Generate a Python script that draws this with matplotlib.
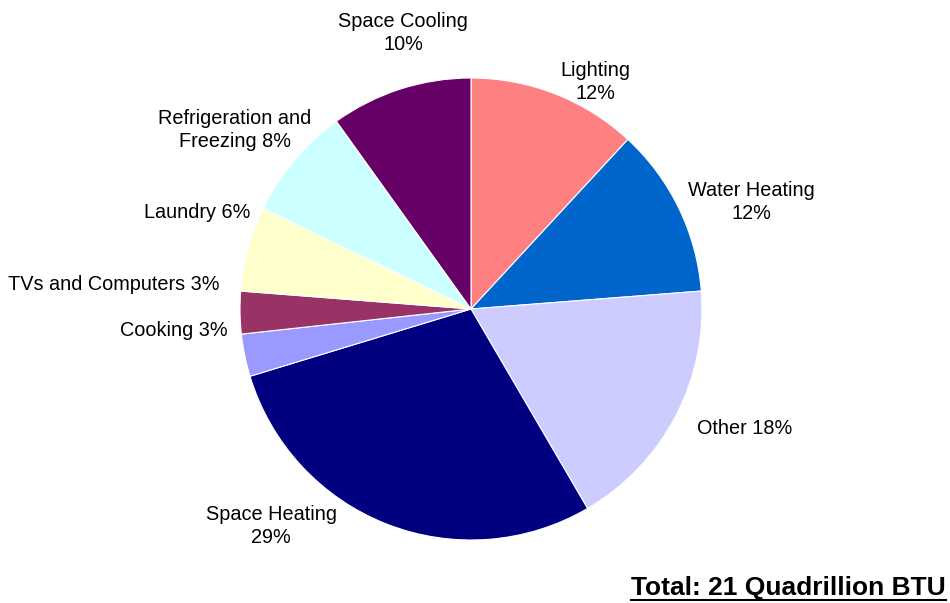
import matplotlib.pyplot as plt
import numpy as np

# Residential energy end use, share of total (%)
categories = ["Lighting", "Water Heating", "Other", "Space Heating", "Cooking",
              "TVs and Computers", "Laundry", "Refrigeration and\nFreezing", "Space Cooling"]
shares = [12, 12, 18, 29, 3, 3, 6, 8, 10]
colors = ["#FF8080", "#0066CC", "#CCCCFF", "#000080", "#9999FF",
          "#993366", "#FFFFCC", "#CCFFFF", "#660066"]
label_texts = ["Lighting\n12%", "Water Heating\n12%", "Other 18%", "Space Heating\n29%",
               "Cooking 3%", "TVs and Computers 3%", "Laundry 6%",
               "Refrigeration and\nFreezing 8%", "Space Cooling\n10%"]

# label anchor points (pixels from pie centre) and alignment
label_pos = [(124, 227), (280, 107), (274, -119), (-200, -217), (-243, -22),
             (-252, 24), (-221, 96), (-236, 179), (-68, 276)]
label_ha = ["center", "center", "center", "center", "right",
            "right", "right", "center", "center"]

plt.rcParams["font.family"] = ["Liberation Sans", "DejaVu Sans"]

W, H = 950, 603
cx, cy, R = 471, 309, 231
fig = plt.figure(figsize=(W / 100, H / 100), dpi=100)
ax = fig.add_axes([(cx - R) / W, (H - cy - R) / H, 2 * R / W, 2 * R / H])

ax.pie(shares, colors=colors, startangle=90, counterclock=False,
       wedgeprops=dict(edgecolor="white", linewidth=0.8))
ax.set_xlim(-1, 1)
ax.set_ylim(-1, 1)
ax.set_aspect("equal")
ax.axis("off")

for txt, (dx, dy), ha in zip(label_texts, label_pos, label_ha):
    ax.text(dx / R, dy / R, txt, ha=ha, va="center", fontsize=14.3,
            linespacing=1.3, clip_on=False)

total = fig.text(946 / W, 1 - 595 / H, "Total: 21 Quadrillion BTU", ha="right",
                 va="baseline", fontsize=19, fontweight="bold")

# underline spanning the total label
fig.canvas.draw()
bb = total.get_window_extent()
fig.add_artist(plt.Line2D([bb.x0 / W, bb.x1 / W], [1 - 599.5 / H, 1 - 599.5 / H],
                          color="black", linewidth=1.5))

fig.savefig("out.png", dpi=100)
